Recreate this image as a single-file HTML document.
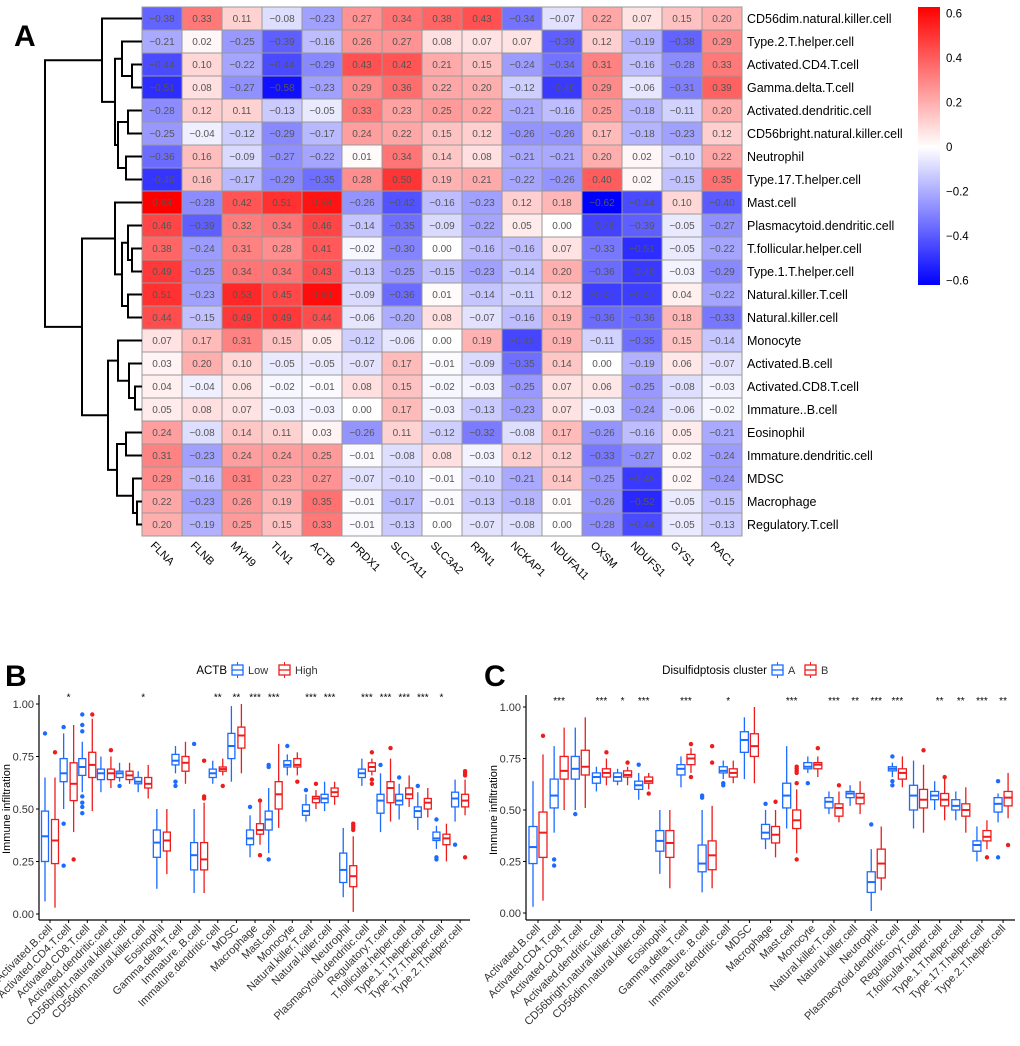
<!DOCTYPE html>
<html><head><meta charset="utf-8"><style>
body{margin:0;background:#fff;}
svg{display:block;font-family:"Liberation Sans",sans-serif;}
</style></head><body>
<svg id="fig" width="1020" height="1046" viewBox="0 0 1020 1046"></svg>
<script>
const NS="http://www.w3.org/2000/svg";
const svg=document.getElementById('fig');
function mk(tag,attrs,parent,text){const e=document.createElementNS(NS,tag);for(const k in attrs)e.setAttribute(k,attrs[k]);if(text!==undefined)e.textContent=text;(parent||svg).appendChild(e);return e;}

// ===== Heatmap data =====
const genes=["FLNA","FLNB","MYH9","TLN1","ACTB","PRDX1","SLC7A11","SLC3A2","RPN1","NCKAP1","NDUFA11","OXSM","NDUFS1","GYS1","RAC1"];
const cells=["CD56dim.natural.killer.cell","Type.2.T.helper.cell","Activated.CD4.T.cell","Gamma.delta.T.cell","Activated.dendritic.cell","CD56bright.natural.killer.cell","Neutrophil","Type.17.T.helper.cell","Mast.cell","Plasmacytoid.dendritic.cell","T.follicular.helper.cell","Type.1.T.helper.cell","Natural.killer.T.cell","Natural.killer.cell","Monocyte","Activated.B.cell","Activated.CD8.T.cell","Immature..B.cell","Eosinophil","Immature.dendritic.cell","MDSC","Macrophage","Regulatory.T.cell"];
const corr=[
[-0.38,0.33,0.11,-0.08,-0.23,0.27,0.34,0.38,0.43,-0.34,-0.07,0.22,0.07,0.15,0.20],
[-0.21,0.02,-0.25,-0.39,-0.16,0.26,0.27,0.08,0.07,0.07,-0.39,0.12,-0.19,-0.38,0.29],
[-0.44,0.10,-0.22,-0.44,-0.29,0.43,0.42,0.21,0.15,-0.24,-0.34,0.31,-0.16,-0.28,0.33],
[-0.51,0.08,-0.27,-0.58,-0.23,0.29,0.36,0.22,0.20,-0.12,-0.48,0.29,-0.06,-0.31,0.39],
[-0.28,0.12,0.11,-0.13,-0.05,0.33,0.23,0.25,0.22,-0.21,-0.16,0.25,-0.18,-0.11,0.20],
[-0.25,-0.04,-0.12,-0.29,-0.17,0.24,0.22,0.15,0.12,-0.26,-0.26,0.17,-0.18,-0.23,0.12],
[-0.36,0.16,-0.09,-0.27,-0.22,0.01,0.34,0.14,0.08,-0.21,-0.21,0.20,0.02,-0.10,0.22],
[-0.49,0.16,-0.17,-0.29,-0.35,0.28,0.50,0.19,0.21,-0.22,-0.26,0.40,0.02,-0.15,0.35],
[0.63,-0.28,0.42,0.51,0.58,-0.26,-0.42,-0.16,-0.23,0.12,0.18,-0.62,-0.44,0.10,-0.40],
[0.46,-0.39,0.32,0.34,0.46,-0.14,-0.35,-0.09,-0.22,0.05,-0.00,-0.46,-0.39,-0.05,-0.27],
[0.38,-0.24,0.31,0.28,0.41,-0.02,-0.30,0.00,-0.16,-0.16,0.07,-0.33,-0.51,-0.05,-0.22],
[0.49,-0.25,0.34,0.34,0.43,-0.13,-0.25,-0.15,-0.23,-0.14,0.20,-0.36,-0.48,-0.03,-0.29],
[0.51,-0.23,0.53,0.45,0.60,-0.09,-0.36,0.01,-0.14,-0.11,0.12,-0.47,-0.47,0.04,-0.22],
[0.44,-0.15,0.49,0.49,0.44,-0.06,-0.20,0.08,-0.07,-0.16,0.19,-0.36,-0.36,0.18,-0.33],
[0.07,0.17,0.31,0.15,0.05,-0.12,-0.06,-0.00,0.19,-0.45,0.19,-0.11,-0.35,0.15,-0.14],
[0.03,0.20,0.10,-0.05,-0.05,-0.07,0.17,-0.01,-0.09,-0.35,0.14,-0.00,-0.19,0.06,-0.07],
[0.04,-0.04,0.06,-0.02,-0.01,0.08,0.15,-0.02,-0.03,-0.25,0.07,0.06,-0.25,-0.08,-0.03],
[0.05,0.08,0.07,-0.03,-0.03,-0.00,0.17,-0.03,-0.13,-0.23,0.07,-0.03,-0.24,-0.06,-0.02],
[0.24,-0.08,0.14,0.11,0.03,-0.26,0.11,-0.12,-0.32,-0.08,0.17,-0.26,-0.16,0.05,-0.21],
[0.31,-0.23,0.24,0.24,0.25,-0.01,-0.08,0.08,-0.03,0.12,0.12,-0.33,-0.27,0.02,-0.24],
[0.29,-0.16,0.31,0.23,0.27,-0.07,-0.10,-0.01,-0.10,-0.21,0.14,-0.25,-0.48,0.02,-0.24],
[0.22,-0.23,0.26,0.19,0.35,-0.01,-0.17,-0.01,-0.13,-0.18,0.01,-0.26,-0.52,-0.05,-0.15],
[0.20,-0.19,0.25,0.15,0.33,-0.01,-0.13,-0.00,-0.07,-0.08,-0.00,-0.28,-0.44,-0.05,-0.13]];
const cbTicks=[0.6,0.4,0.2,0,-0.2,-0.4,-0.6];

// ===== Boxplot data B (ACTB Low/High), [min,q1,med,q3,max] =====
const immCells=["Activated.B.cell","Activated.CD4.T.cell","Activated.CD8.T.cell","Activated.dendritic.cell","CD56bright.natural.killer.cell","CD56dim.natural.killer.cell","Eosinophil","Gamma.delta.T.cell","Immature..B.cell","Immature.dendritic.cell","MDSC","Macrophage","Mast.cell","Monocyte","Natural.killer.T.cell","Natural.killer.cell","Neutrophil","Plasmacytoid.dendritic.cell","Regulatory.T.cell","T.follicular.helper.cell","Type.1.T.helper.cell","Type.17.T.helper.cell","Type.2.T.helper.cell"];
const bLow=[[0.06,0.25,0.37,0.49,0.65],[0.5,0.63,0.67,0.74,0.86],[0.58,0.66,0.70,0.74,0.82],[0.58,0.64,0.67,0.69,0.75],[0.63,0.65,0.67,0.68,0.72],[0.58,0.62,0.63,0.65,0.68],[0.12,0.27,0.34,0.40,0.50],[0.67,0.71,0.73,0.76,0.80],[0.10,0.21,0.28,0.34,0.50],[0.62,0.65,0.67,0.69,0.73],[0.63,0.74,0.80,0.86,0.99],[0.27,0.33,0.36,0.40,0.47],[0.29,0.40,0.45,0.49,0.60],[0.66,0.70,0.71,0.73,0.76],[0.44,0.47,0.49,0.52,0.57],[0.49,0.53,0.55,0.57,0.63],[0.08,0.15,0.21,0.29,0.41],[0.61,0.65,0.67,0.69,0.74],[0.39,0.48,0.54,0.57,0.67],[0.45,0.52,0.54,0.57,0.62],[0.40,0.46,0.49,0.51,0.58],[0.31,0.35,0.36,0.39,0.42],[0.44,0.51,0.55,0.58,0.64]];
const bHigh=[[0.03,0.24,0.35,0.45,0.65],[0.39,0.54,0.62,0.72,0.90],[0.49,0.65,0.71,0.77,0.93],[0.60,0.64,0.67,0.69,0.75],[0.62,0.64,0.66,0.68,0.72],[0.55,0.60,0.62,0.65,0.71],[0.19,0.30,0.35,0.39,0.50],[0.62,0.68,0.72,0.75,0.82],[0.10,0.21,0.26,0.34,0.53],[0.66,0.68,0.69,0.70,0.74],[0.67,0.79,0.85,0.89,1.00],[0.33,0.38,0.40,0.43,0.53],[0.41,0.50,0.57,0.63,0.81],[0.66,0.70,0.71,0.74,0.77],[0.50,0.53,0.55,0.56,0.59],[0.52,0.56,0.58,0.60,0.63],[0.01,0.13,0.18,0.23,0.37],[0.66,0.68,0.70,0.72,0.74],[0.44,0.53,0.60,0.63,0.74],[0.51,0.55,0.57,0.60,0.66],[0.46,0.50,0.53,0.55,0.60],[0.25,0.33,0.36,0.38,0.43],[0.47,0.51,0.54,0.57,0.64]];
const bLowOut=[[0.86],[0.89,0.43,0.23],[0.95,0.90,0.87,0.56,0.53,0.51,0.48],[],[0.61],[],[],[0.63,0.61],[0.81],[],[],[0.51],[0.71,0.70,0.26],[0.80],[0.59],[],[],[],[0.71],[0.65],[0.61],[0.45,0.27,0.26],[0.33]];
const bHighOut=[[0.77],[0.26],[0.95],[0.78],[],[],[],[],[0.73,0.56,0.55],[0.61],[],[0.54,0.28],[],[0.63],[0.62],[],[0.43,0.42,0.41,0.40],[0.77,0.64,0.62],[0.79],[],[],[],[0.68,0.67,0.66,0.27]];
const bSig=["","*","","","","*","","","","**","**","***","***","","***","***","","***","***","***","***","*",""];

// ===== Boxplot data C (cluster A/B) =====
const cA=[[0.03,0.24,0.32,0.42,0.64],[0.39,0.51,0.57,0.65,0.81],[0.50,0.65,0.70,0.76,0.90],[0.59,0.63,0.66,0.68,0.71],[0.62,0.64,0.66,0.68,0.70],[0.55,0.60,0.62,0.64,0.68],[0.19,0.30,0.35,0.40,0.50],[0.61,0.67,0.70,0.72,0.76],[0.10,0.20,0.24,0.33,0.50],[0.65,0.68,0.69,0.71,0.74],[0.65,0.78,0.84,0.88,0.95],[0.31,0.36,0.39,0.43,0.50],[0.41,0.51,0.57,0.63,0.81],[0.68,0.70,0.71,0.73,0.76],[0.48,0.51,0.54,0.56,0.59],[0.52,0.56,0.58,0.59,0.62],[0.01,0.10,0.15,0.20,0.31],[0.66,0.69,0.70,0.71,0.73],[0.41,0.50,0.57,0.62,0.74],[0.50,0.55,0.57,0.59,0.64],[0.45,0.50,0.52,0.55,0.59],[0.25,0.30,0.33,0.35,0.42],[0.44,0.49,0.53,0.56,0.58]];
const cB=[[0.06,0.27,0.39,0.49,0.77],[0.50,0.65,0.69,0.76,0.90],[0.51,0.67,0.71,0.79,0.95],[0.62,0.66,0.68,0.70,0.75],[0.62,0.66,0.67,0.69,0.71],[0.60,0.63,0.64,0.66,0.68],[0.12,0.27,0.34,0.40,0.50],[0.68,0.72,0.75,0.77,0.80],[0.12,0.21,0.28,0.35,0.52],[0.63,0.66,0.68,0.70,0.74],[0.63,0.76,0.81,0.87,1.00],[0.27,0.34,0.38,0.42,0.50],[0.29,0.41,0.45,0.50,0.60],[0.66,0.70,0.72,0.73,0.76],[0.44,0.47,0.51,0.53,0.59],[0.48,0.53,0.56,0.58,0.64],[0.11,0.17,0.24,0.31,0.42],[0.61,0.65,0.68,0.70,0.76],[0.39,0.51,0.55,0.60,0.72],[0.45,0.52,0.55,0.58,0.66],[0.39,0.47,0.50,0.53,0.61],[0.31,0.35,0.37,0.40,0.45],[0.46,0.52,0.56,0.59,0.68]];
const cAOut=[[],[0.26,0.23],[0.48],[],[],[0.72],[],[],[0.57,0.56],[0.63,0.62],[],[0.53],[],[0.63],[],[],[0.43],[0.76,0.64,0.62],[],[],[],[],[0.64,0.27]];
const cBOut=[[0.86],[],[],[0.78],[0.73],[0.58],[],[0.82,0.66],[0.81,0.73],[],[],[0.54],[0.71,0.70,0.69,0.68,0.63,0.26],[0.80],[0.62],[],[],[],[0.79],[0.66],[],[0.27],[0.33]];
const cSig=["","***","","***","*","***","","***","","*","","","***","","***","**","***","***","","**","**","***","**"];

// ===== Heatmap drawing =====
const hm={x0:142,y0:7,cw:40,ch:23};
function hx(j){return hm.x0+j*hm.cw;}
function hy(i){return hm.y0+i*hm.ch;}
const vmin=-0.62,vmax=0.63;
function col(v){
  let r,g,b;
  if(v>=0){const t=Math.min(v/vmax,1);r=255;g=Math.round(255*(1-t));b=g;}
  else{const t=Math.min(-v/(-vmin),1);b=255;r=Math.round(255*(1-t));g=r;}
  return `rgb(${r},${g},${b})`;
}
const pa=mk('text',{x:14,y:46,'font-size':30,'font-weight':'bold'},svg,'A');


const hmG=mk('g',{});


corr.forEach((row,i)=>row.forEach((v,j)=>{
  const r=mk('rect',{x:hx(j),y:hy(i),width:hm.cw,height:hm.ch,fill:col(v),stroke:'#999','stroke-width':1},hmG);
  
  
  const t=mk('text',{x:hx(j)+hm.cw/2,y:hy(i)+hm.ch/2+3.5,'font-size':10,'text-anchor':'middle',fill:'#555'},hmG,v.toFixed(2).replace('-','−'));
  
  
}));
cells.forEach((c,i)=>{
  const t=mk('text',{x:hx(15)+5,y:hy(i)+hm.ch/2+4.5,'font-size':12.5},svg,c);
  
  
});
genes.forEach((g,j)=>{
  const cx=hx(j)+hm.cw/2;
  const t=mk('text',{x:0,y:0,'font-size':11,transform:`translate(${cx-12},${hy(23)+10}) rotate(45)`},svg,g);
  
  
});
// dendrogram (tree layout with pixel merge heights)
const tree=[[0,[[1,[2,3,132],122],[[4,5,128],[6,7,126],118],115],102],[[8,[[9,[10,11,132],128],[12,13,128],122],115],[[14,[15,[16,17,135],129],118],[[18,19,126],[20,[21,22,137],133],117],108],82],45];
const dg=mk('g',{stroke:'#000','stroke-width':2,fill:'none'});


function drawNode(n){
  if(typeof n==='number'){return {x:hm.x0,y:hy(n)+hm.ch/2};}
  const a=drawNode(n[0]),b=drawNode(n[1]),x=n[2];
  mk('path',{d:`M${a.x},${a.y}H${x}V${b.y}H${b.x}`},dg);
  return {x:x,y:(a.y+b.y)/2};
}
drawNode(tree);
// colorbar
const cb={x:918,y:7,w:22,h:278};
const defs=mk('defs',{});
function cbY(v){return cb.y+(vmax-v)/(vmax-vmin)*cb.h;}
const lg1=mk('linearGradient',{id:'cbg1',x1:0,y1:0,x2:0,y2:1},defs);
[[0,'#ff0000'],[1,'#ffffff']].forEach(s=>mk('stop',{offset:s[0],'stop-color':s[1]},lg1));
const lg2=mk('linearGradient',{id:'cbg2',x1:0,y1:0,x2:0,y2:1},defs);
[[0,'#ffffff'],[1,'#0000ff']].forEach(s=>mk('stop',{offset:s[0],'stop-color':s[1]},lg2));
const cbr=mk('rect',{x:cb.x,y:cbY(vmax),width:cb.w,height:cbY(0)-cbY(vmax),fill:'url(#cbg1)'});


const cbr2=mk('rect',{x:cb.x,y:cbY(0),width:cb.w,height:cbY(vmin)-cbY(0),fill:'url(#cbg2)'});


cbTicks.forEach(v=>{
  const t=mk('text',{x:cb.x+cb.w+6,y:cbY(v)+4,'font-size':11.5},svg,(v>0?v.toFixed(1):v===0?'0':v.toFixed(1).replace('-','−')));
  
  
});

// ===== Boxplots =====
function boxPanel(P){
  const yS=v=>P.y0-v*(P.y0-P.y1);
  const xS=i=>P.cx0+i*P.sp;
  const g=mk('g',{});
  
  
  const pl=mk('text',{x:P.lx,y:P.ly,'font-size':30,'font-weight':'bold'},g,P.letter);
  
  
  const lgd=mk('g',{},g);
  
  
  mk('text',{x:P.legX,y:674,'font-size':11.5,'text-anchor':'end'},lgd,P.legTitle);
  let lx=P.legX+5;
  [[P.cols[0],P.names[0]],[P.cols[1],P.names[1]]].forEach(([c,nm])=>{
    const e=mk('g',{},lgd);
    
    
    mk('rect',{x:lx,y:665,width:11,height:10,fill:'none',stroke:c,'stroke-width':1.3},e);
    mk('line',{x1:lx,x2:lx+11,y1:670,y2:670,stroke:c,'stroke-width':1.3},e);
    mk('line',{x1:lx+5.5,x2:lx+5.5,y1:662,y2:665,stroke:c},e);
    mk('line',{x1:lx+5.5,x2:lx+5.5,y1:675,y2:678,stroke:c},e);
    mk('text',{x:lx+16,y:674,'font-size':11,fill:'#333'},e,nm);
    lx+=16+nm.length*7+10;
  });
  const ax=mk('g',{stroke:'#000','stroke-width':1.2},g);
  
  
  mk('line',{x1:P.ax,x2:P.ax,y1:P.top,y2:P.bot},ax);
  mk('line',{x1:P.ax,x2:P.right,y1:P.bot,y2:P.bot},ax);
  [0,0.25,0.5,0.75,1].forEach(v=>{
    mk('line',{x1:P.ax-3,x2:P.ax,y1:yS(v),y2:yS(v),stroke:'#000'},g);
    const t=mk('text',{x:P.ax-5,y:yS(v)+4,'font-size':11,'text-anchor':'end',fill:'#333'},g,v.toFixed(2));
    
    
  });
  const yt=mk('text',{x:0,y:0,'font-size':11,'text-anchor':'middle',transform:`translate(${P.ax-29},${yS(0.5)}) rotate(-90)`},g,'Immune infiltration');
  
  
  immCells.forEach((c,i)=>{
    const cx=xS(i);
    mk('line',{x1:cx,x2:cx,y1:P.bot,y2:P.bot+3,stroke:'#000'},g);
    const t=mk('text',{x:0,y:0,'font-size':11,'text-anchor':'end',fill:'#333',transform:`translate(${cx+3},${P.bot+9}) rotate(-45)`},g,c);
    
    
    [[P.d0[i],P.o0[i],-5,P.cols[0]],[P.d1[i],P.o1[i],5,P.cols[1]]].forEach(([d,o,off,colr])=>{
      const bx=cx+off,hw=P.bw/2;
      const bg=mk('g',{stroke:colr,'stroke-width':1.3,fill:'#fff'},g);
      
      
      mk('line',{x1:bx,x2:bx,y1:yS(d[0]),y2:yS(d[1])},bg);
      mk('line',{x1:bx,x2:bx,y1:yS(d[3]),y2:yS(d[4])},bg);
      mk('rect',{x:bx-hw,y:yS(d[3]),width:P.bw,height:yS(d[1])-yS(d[3])},bg);
      mk('line',{x1:bx-hw,x2:bx+hw,y1:yS(d[2]),y2:yS(d[2]),'stroke-width':2},bg);
      o.forEach(v=>{mk('circle',{cx:bx,cy:yS(v),r:2.2,fill:colr,stroke:'none'},bg);});
    });
    if(P.sig[i]){
      const s=mk('text',{x:cx,y:yS(1.03)+3,'font-size':10,'text-anchor':'middle'},g,P.sig[i]);
      
      
    }
  });
}
boxPanel({name:'boxplot-actb',letter:'B',lx:5,ly:686,legTitle:'ACTB',legX:227,names:['Low','High'],cols:['#1a6bff','#ee1c1c'],
  ax:39,right:470,top:695,bot:920,y0:914,y1:704,cx0:50,sp:18.64,bw:7,d0:bLow,d1:bHigh,o0:bLowOut,o1:bHighOut,sig:bSig});
boxPanel({name:'boxplot-cluster',letter:'C',lx:484,ly:686,legTitle:'Disulfidptosis cluster',legX:767,names:['A','B'],cols:['#1a6bff','#ee1c1c'],
  ax:526,right:1015,top:695,bot:920,y0:913,y1:707,cx0:538,sp:21.14,bw:8,d0:cA,d1:cB,o0:cAOut,o1:cBOut,sig:cSig});
</script>
</body></html>
